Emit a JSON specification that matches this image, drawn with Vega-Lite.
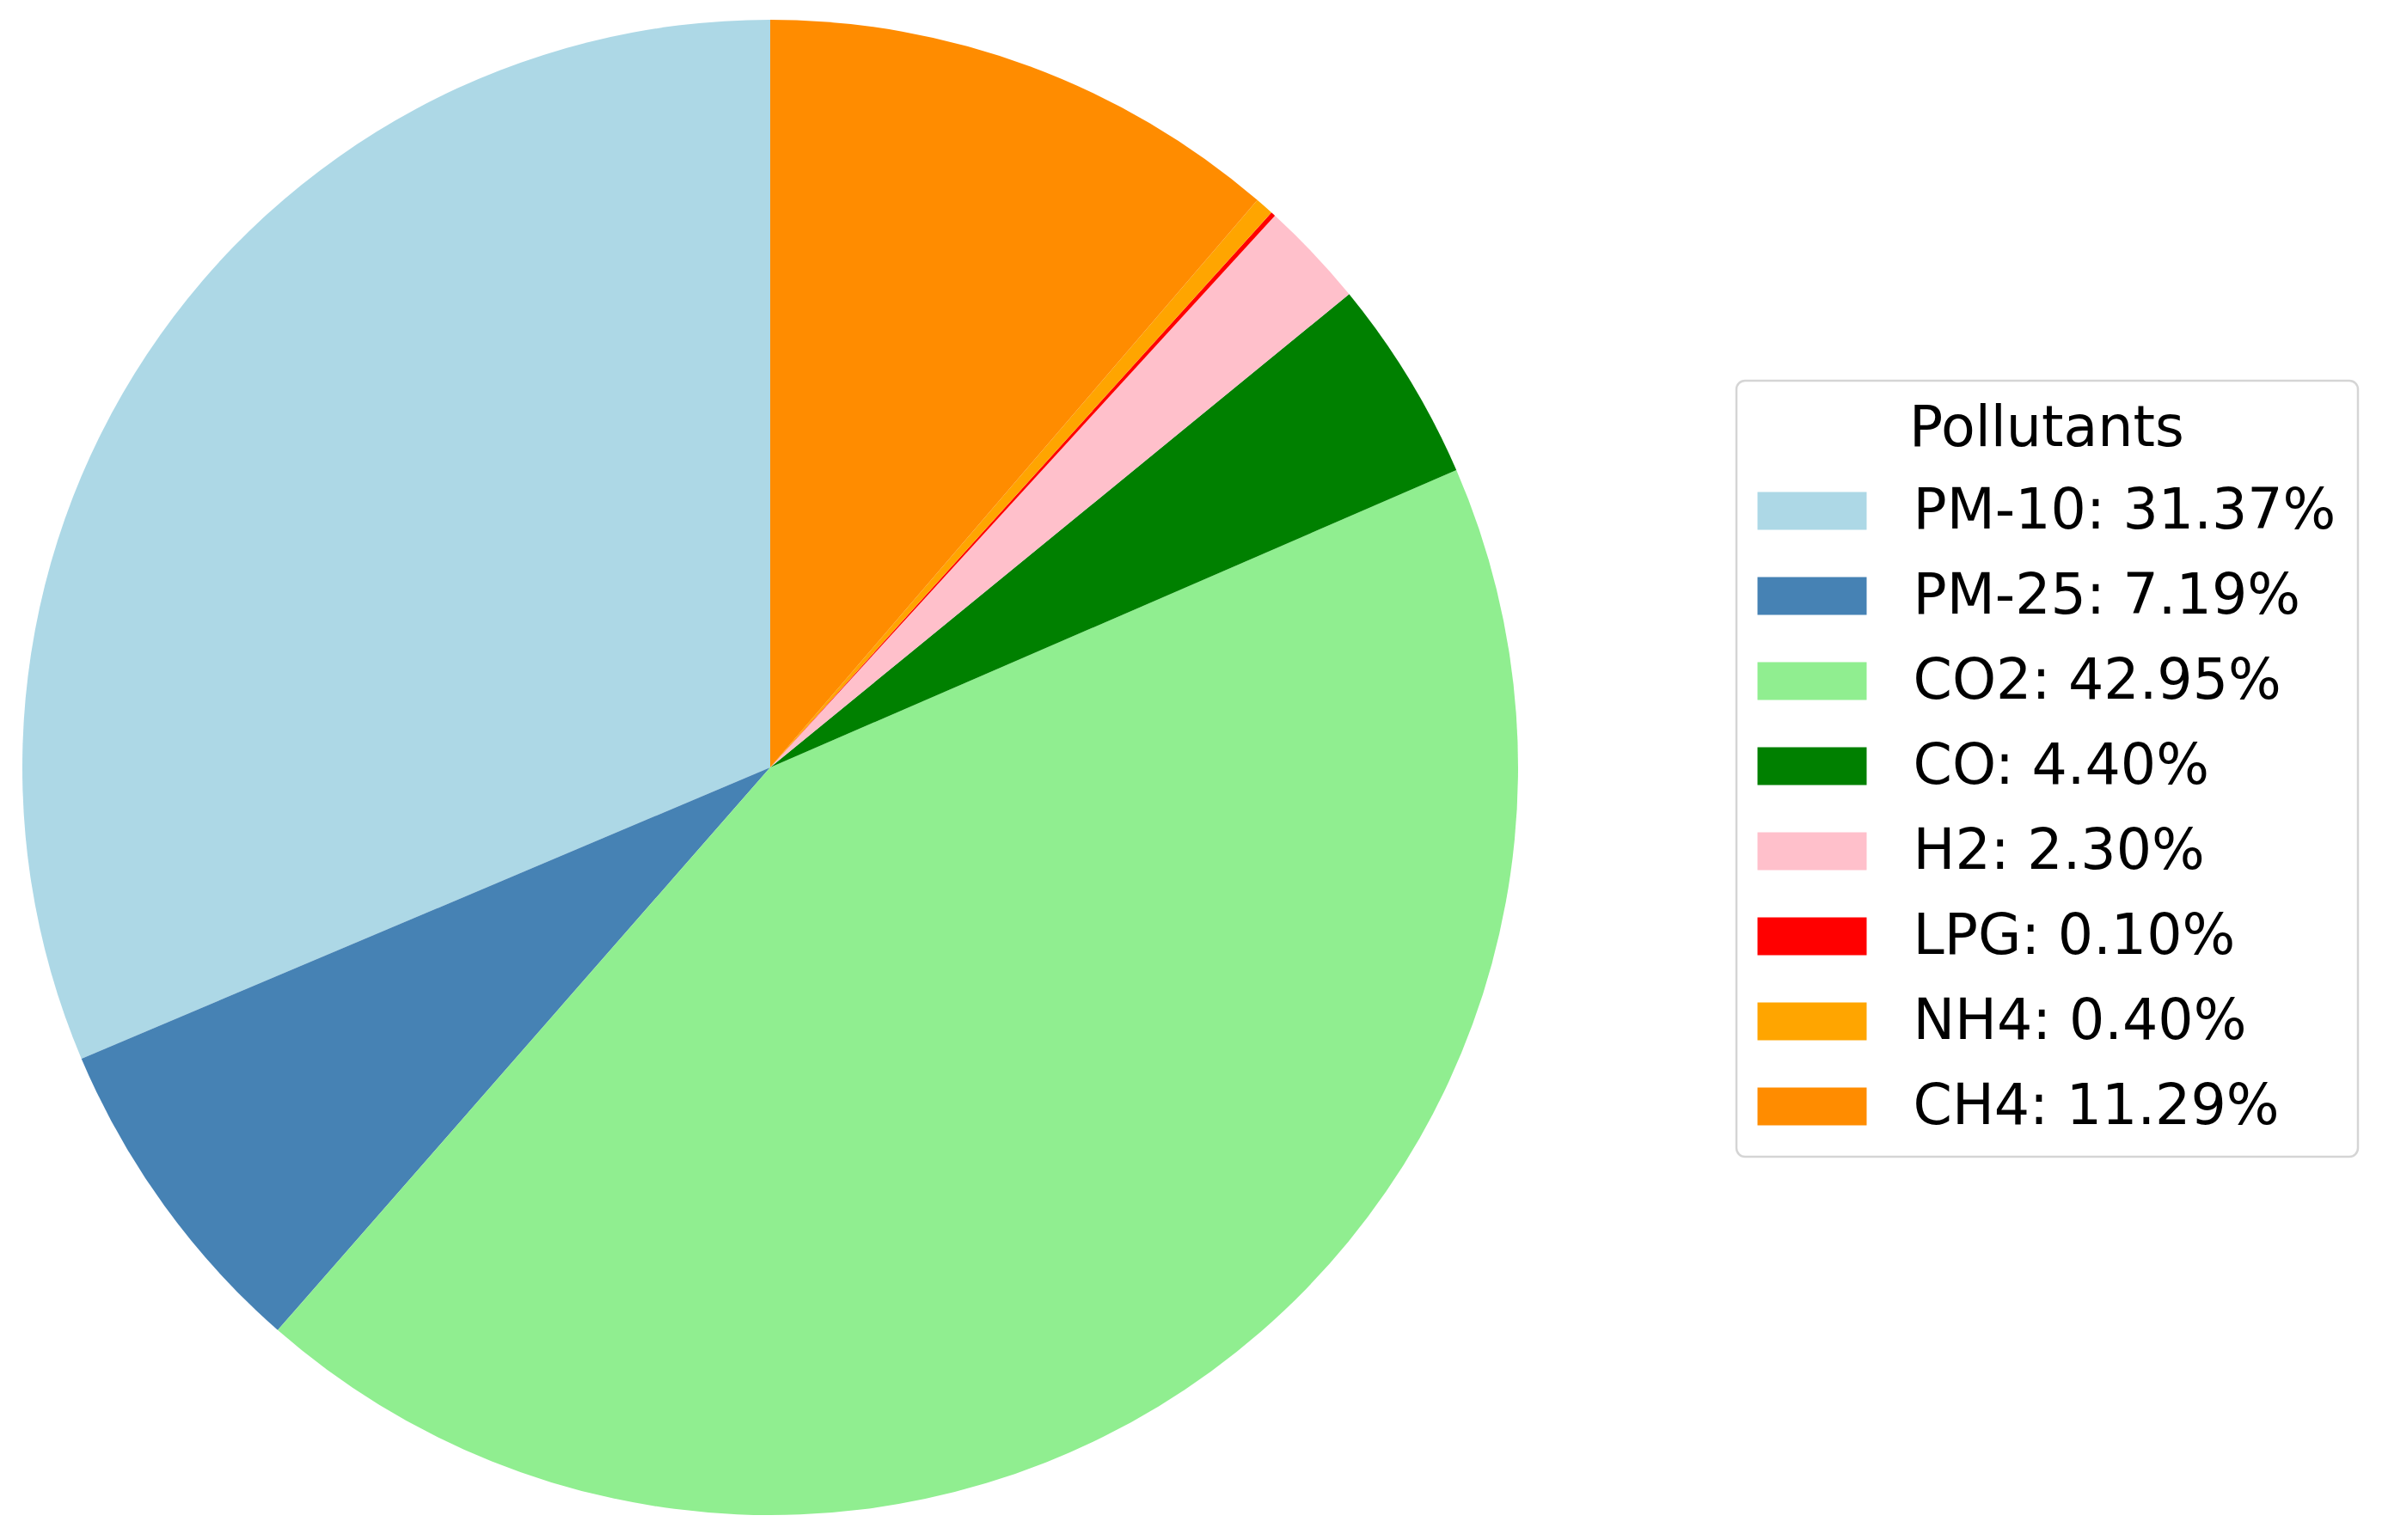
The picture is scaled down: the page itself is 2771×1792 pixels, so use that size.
{
  "$schema": "https://vega.github.io/schema/vega-lite/v6.json",
  "autosize": {"type": "none"},
  "padding": {"left": 26, "top": 23, "right": 1005, "bottom": 29},
  "width": 1740,
  "height": 1740,
  "background": "white",
  "config": {"view": {"stroke": null}},
  "data": {
    "values": [
      {"idx": 1, "pollutant": "PM-10", "label": "PM-10: 31.37%", "pct": 31.37},
      {"idx": 2, "pollutant": "PM-25", "label": "PM-25: 7.19%", "pct": 7.19},
      {"idx": 3, "pollutant": "CO2", "label": "CO2: 42.95%", "pct": 42.95},
      {"idx": 4, "pollutant": "CO", "label": "CO: 4.40%", "pct": 4.40},
      {"idx": 5, "pollutant": "H2", "label": "H2: 2.30%", "pct": 2.30},
      {"idx": 6, "pollutant": "LPG", "label": "LPG: 0.10%", "pct": 0.10},
      {"idx": 7, "pollutant": "NH4", "label": "NH4: 0.40%", "pct": 0.40},
      {"idx": 8, "pollutant": "CH4", "label": "CH4: 11.29%", "pct": 11.29}
    ]
  },
  "mark": {"type": "arc", "outerRadius": 870, "strokeWidth": 0},
  "encoding": {
    "theta": {"field": "pct", "type": "quantitative", "stack": true, "scale": {"domain": [0, 100], "range": [6.283185307, 0]}},
    "order": {"field": "idx", "type": "quantitative", "sort": "ascending"},
    "color": {
      "field": "label",
      "type": "nominal",
      "sort": ["PM-10: 31.37%", "PM-25: 7.19%", "CO2: 42.95%", "CO: 4.40%", "H2: 2.30%", "LPG: 0.10%", "NH4: 0.40%", "CH4: 11.29%"],
      "scale": {
        "domain": ["PM-10: 31.37%", "PM-25: 7.19%", "CO2: 42.95%", "CO: 4.40%", "H2: 2.30%", "LPG: 0.10%", "NH4: 0.40%", "CH4: 11.29%"],
        "range": ["#add8e6", "#4682b4", "#90ee90", "#008000", "#ffc0cb", "#ff0000", "#ffa500", "#ff8c00"]
      },
      "legend": {
        "title": "Pollutants",
        "orient": "none",
        "legendX": 1994,
        "legendY": 420,
        "padding": 25,
        "strokeColor": "#d5d5d5",
        "fillColor": "white",
        "cornerRadius": 10,
        "titleFont": "DejaVu Sans",
        "titleFontSize": 65,
        "titleFontWeight": "normal",
        "titleColor": "#000000",
        "titleAnchor": "middle",
        "titlePadding": 29,
        "titleLimit": 0,
        "labelFont": "DejaVu Sans",
        "labelFontSize": 65,
        "labelColor": "#000000",
        "labelLimit": 0,
        "symbolType": "M-2.886,-1H2.886V1H-2.886Z",
        "symbolSize": 1936,
        "symbolStrokeWidth": 0,
        "symbolOpacity": 1,
        "symbolOffset": 30.5,
        "labelOffset": 85,
        "rowPadding": 33,
        "encode": {"legend": {"update": {"strokeWidth": {"value": 2.5}}}}
      }
    }
  }
}
